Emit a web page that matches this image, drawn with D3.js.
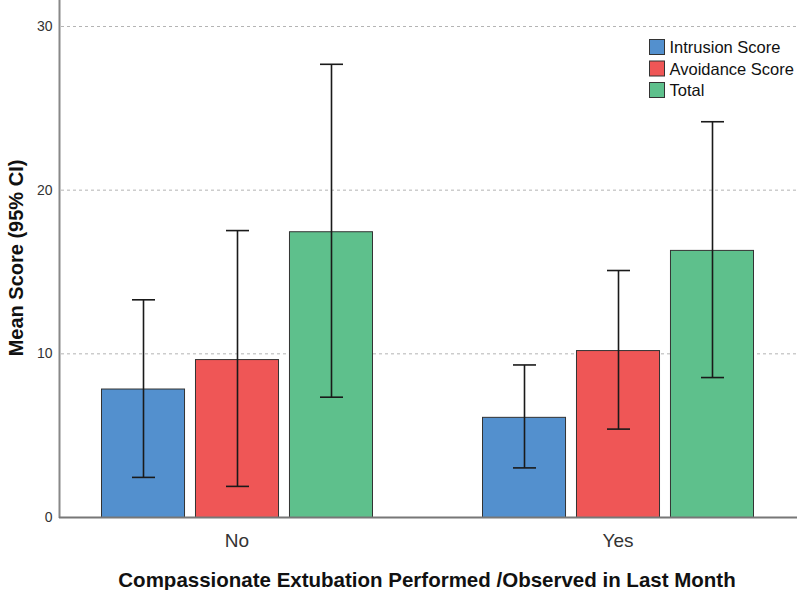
<!DOCTYPE html>
<html>
<head>
<meta charset="utf-8">
<script src="https://cdn.jsdelivr.net/npm/d3@7"></script>
<style>
  body { margin: 0; background: #fff; }
  text { font-family: "Liberation Sans", Arial, sans-serif; }
</style>
</head>
<body>
<div id="chart"></div>
<script>
// categories and series
const groups = ["No", "Yes"];
const seriesNames = ["Intrusion Score", "Avoidance Score", "Total"];
const seriesColors = ["#5390ce", "#ef5656", "#5ec08c"];

// mean and 95% CI, per series, one entry per group
const means = [
    [7.85, 6.12],
    [9.65, 10.2],
    [17.46, 16.32]
];
const lower = [
    [2.42, 3.0],
    [1.87, 5.37],
    [7.32, 8.52]
];
const upper = [
    [13.27, 9.29],
    [17.5, 15.06],
    [27.66, 24.15]
];
const yTicks = [0, 10, 20, 30];

document.addEventListener("DOMContentLoaded", function () {
    const width = 797, height = 590;

    const svg = d3.select("#chart").append("svg")
        .attr("width", width)
        .attr("height", height);

    // build flat data for bars
    const data = [];
    groups.forEach((g, gi) => {
        seriesNames.forEach((s, si) => {
            data.push({ group: g, series: s, si: si, mean: means[si][gi], lo: lower[si][gi], hi: upper[si][gi] });
        });
    });

    const x = d3.scalePoint().domain(groups).range([237, 618]);
    const xInner = d3.scaleBand().domain(seriesNames).range([-136, 136]).paddingInner(0.106);
    const y = d3.scaleLinear().domain([0, 30]).range([517, 26]);

    // gridlines
    svg.append("g").selectAll("line")
        .data(yTicks.filter(d => d > 0))
        .enter().append("line")
        .attr("x1", 61).attr("x2", width)
        .attr("y1", d => y(d) + 0.5).attr("y2", d => y(d) + 0.5)
        .attr("stroke", "#b4b4b4")
        .attr("stroke-dasharray", "3,3");

    // y axis
    const yAxis = svg.append("g")
        .attr("transform", "translate(59.5,0)")
        .call(d3.axisLeft(y).tickValues(yTicks).tickSize(0).tickPadding(7));
    yAxis.select(".domain").remove();
    yAxis.selectAll("text").attr("font-size", "14px").attr("fill", "#333")
        .attr("font-family", "'Liberation Sans', Arial, sans-serif");
    svg.append("line")
        .attr("x1", 59.5).attr("x2", 59.5).attr("y1", 0).attr("y2", 518)
        .attr("stroke", "#888").attr("stroke-width", 2);

    // bars
    svg.append("g").selectAll("rect")
        .data(data)
        .enter().append("rect")
        .attr("x", d => x(d.group) + xInner(d.series) + 0.5)
        .attr("y", d => y(d.mean) + 0.5)
        .attr("width", xInner.bandwidth() - 1)
        .attr("height", d => y(0) - y(d.mean))
        .attr("fill", d => seriesColors[d.si])
        .attr("stroke", "#333")
        .attr("stroke-width", 1);

    // x axis line
    svg.append("line")
        .attr("x1", 59).attr("x2", width).attr("y1", 517.5).attr("y2", 517.5)
        .attr("stroke", "#777").attr("stroke-width", 2);

    // error bars
    const eb = svg.append("g").selectAll("g")
        .data(data)
        .enter().append("g")
        .attr("transform", d => `translate(${Math.round(x(d.group) + xInner(d.series) + xInner.bandwidth() / 2) + 0.5},0)`);
    eb.append("line")
        .attr("y1", d => y(d.hi)).attr("y2", d => y(d.lo))
        .attr("stroke", "#1a1a1a").attr("stroke-width", 1.6);
    eb.append("line")
        .attr("x1", -11.5).attr("x2", 11.5)
        .attr("y1", d => y(d.hi)).attr("y2", d => y(d.hi))
        .attr("stroke", "#1a1a1a").attr("stroke-width", 1.6);
    eb.append("line")
        .attr("x1", -11.5).attr("x2", 11.5)
        .attr("y1", d => y(d.lo)).attr("y2", d => y(d.lo))
        .attr("stroke", "#1a1a1a").attr("stroke-width", 1.6);

    // category labels
    svg.append("g").selectAll("text")
        .data(groups)
        .enter().append("text")
        .attr("x", d => x(d))
        .attr("y", 547)
        .attr("text-anchor", "middle")
        .attr("font-size", "19px")
        .attr("fill", "#333")
        .text(d => d);

    // axis titles
    svg.append("text")
        .attr("x", 427).attr("y", 587)
        .attr("text-anchor", "middle")
        .attr("font-size", "20.5px").attr("font-weight", "bold")
        .attr("fill", "#111")
        .text("Compassionate Extubation Performed /Observed in Last Month");
    svg.append("text")
        .attr("transform", "translate(23,258) rotate(-90)")
        .attr("text-anchor", "middle")
        .attr("font-size", "20px").attr("font-weight", "bold")
        .attr("fill", "#111")
        .text("Mean Score (95% CI)");

    // legend
    const legend = svg.append("g").selectAll("g")
        .data(seriesNames)
        .enter().append("g")
        .attr("transform", (d, i) => `translate(649.5,${39.5 + i * 21.5})`);
    legend.append("rect")
        .attr("width", 15).attr("height", 15)
        .attr("fill", (d, i) => seriesColors[i])
        .attr("stroke", "#333");
    legend.append("text")
        .attr("x", 20).attr("y", 13.5)
        .attr("font-size", "16.5px")
        .attr("fill", "#111")
        .text(d => d);
});
</script>
</body>
</html>
